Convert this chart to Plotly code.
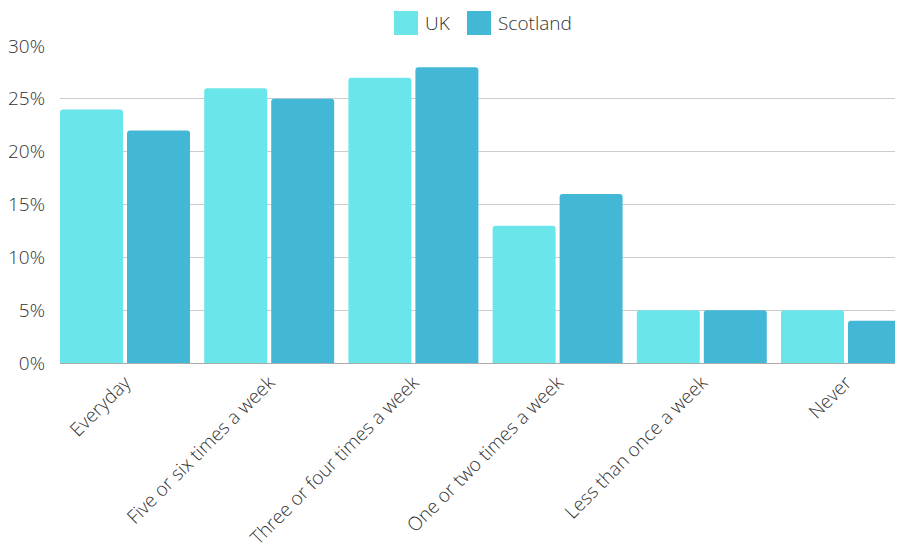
import plotly.graph_objects as go

categories = ["Everyday", "Five or six times a week", "Three or four times a week",
              "One or two times a week", "Less than once a week", "Never"]
series_names = ["UK", "Scotland"]
uk_values = [24, 26, 27, 13, 5, 5]
scotland_values = [22, 25, 28, 16, 5, 4]
y_ticks = [0, 5, 10, 15, 20, 25, 30]
y_tick_labels = [f"{v}%" for v in y_ticks]
colors = ["#6AE5E9", "#42B8D6"]

FONT = "Open Sans, sans-serif"
TEXT = "#333333"

# page has an 8px body margin; figure sized to the visible window area
OFF = 8
W, H = 903 - 2 * OFF, 558 - OFF
PL, PT, PB = 60 - OFF, 46 - OFF, 363 - OFF   # plot edges in figure pixels
PW, PH = W - PL, PB - PT

fig = go.Figure()
for name, vals, col in zip(series_names, [uk_values, scotland_values], colors):
    fig.add_trace(go.Bar(x=categories, y=vals, name=name, marker_color=col,
                         marker_line_width=0, marker_cornerradius=3, showlegend=False))

# custom legend (larger swatches), positions given in window pixels
leg = [(394, 423), (467, 496)]
for (sx, tx), name, col in zip(leg, series_names, colors):
    fig.add_shape(type="rect", xref="paper", yref="paper",
                  x0=(sx - 60) / PW, x1=(sx + 24 - 60) / PW,
                  y0=(363 - 35) / PH, y1=(363 - 11) / PH,
                  fillcolor=col, line_width=0)
    fig.add_annotation(text=name, xref="paper", yref="paper",
                       x=(tx - 60) / PW, y=(363 - 23) / PH,
                       xanchor="left", yanchor="middle", showarrow=False,
                       font=dict(family=FONT, size=19, color=TEXT, weight=300))

step = 144.2
fig.update_layout(
    width=W, height=H,
    margin=dict(l=PL, r=0, t=PT, b=H - PB),
    paper_bgcolor="white", plot_bgcolor="white",
    barmode="group", bargap=0.0707, bargroupgap=0.06,
    font=dict(family=FONT, size=19, color=TEXT, weight=300),
)
fig.update_xaxes(range=[-(125 - 60) / step, 5 + (895 - 846) / step], tickangle=-45,
                 automargin=False,
                 showline=True, linecolor="#aaaaaa", linewidth=1, ticks="",
                 tickfont=dict(family=FONT, size=19, color=TEXT, weight=300))
fig.update_yaxes(range=[0, 30], tickvals=y_ticks, ticktext=y_tick_labels,
                 automargin=False,
                 showgrid=True, gridcolor="#cccccc", gridwidth=1,
                 zeroline=False, ticks="", ticklabelstandoff=14,
                 tickfont=dict(family=FONT, size=19, color=TEXT, weight=300))

fig.write_html("out.html")
